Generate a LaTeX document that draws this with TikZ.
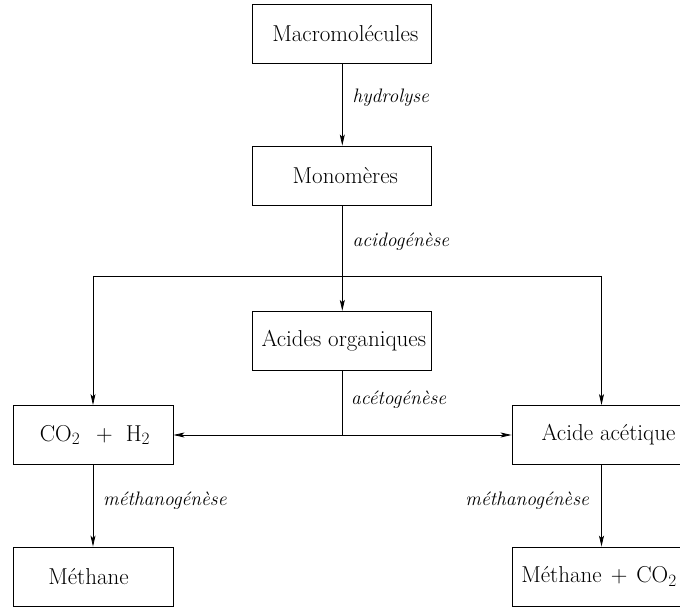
\documentclass[tikz,border=0pt]{standalone}
\usetikzlibrary{arrows.meta}
\begin{document}
\begin{tikzpicture}[x=1pt,y=-1pt,
  box/.style={draw, line width=0.9pt, minimum height=59pt, inner sep=0pt, font=\fontsize{23}{27}\selectfont},
  lbl/.style={inner sep=0pt, font=\fontsize{19.5}{23}\selectfont\itshape},
  ln/.style={line width=0.8pt},
  arr/.style={line width=0.8pt, -{Stealth[length=11pt,width=5pt,inset=2.5pt]}}]
\useasboundingbox (0,0) rectangle (680,609);
\node[box, minimum width=179pt] (macro) at (342.3,33.8) {\hspace{6pt}Macromolécules};
\node[box, minimum width=179pt] (mono) at (342.3,175.5) {\hspace{6pt}Monomères};
\node[box, minimum width=179pt] (acides) at (342.3,340.8) {\hspace{3pt}Acides organiques};
\node[box, minimum width=160pt] (co2) at (93,435) {\hspace{4pt}CO$_2$\hspace{16pt}+\hspace{13pt}H$_2$};
\node[box, minimum width=193pt] (acet) at (608.5,435) {Acide acétique};
\node[box, minimum width=160pt] (meth) at (93,576.5) {Méthane\kern9pt};
\node[box, minimum width=193pt] (methco) at (608.5,576.5) {Méthane\hspace{9pt}+\hspace{9pt}CO$_2$\kern19pt};
\coordinate (jc) at (342.3,276);
\coordinate (jl) at (co2.north |- jc);
\coordinate (jr) at (601.5,276);
\coordinate (mid) at (acides.south |- co2.east);
\draw[arr] (macro) -- (mono);
\draw[arr] (mono) -- (acides);
\draw[ln] (jl) -- (jr);
\draw[arr] (jl) -- (co2.north);
\draw[arr] (jr) -- (jr |- acet.north);
\draw[ln] (acides.south) -- (mid);
\draw[arr] (mid) -- (co2.east);
\draw[arr] (mid) -- (acet.west);
\draw[arr] (co2) -- (meth);
\draw[arr] (jr |- acet.south) -- (jr |- methco.north);
\node[lbl, anchor=west] (l1) at (352.5,98) {hydrolyse};
\node[lbl, anchor=west] (l2) at (352.5,242) {acidogénèse};
\node[lbl, anchor=west] (l3) at (351,400) {acétogénèse};
\node[lbl, anchor=west] (l4) at (103,501) {méthanogénèse};
\node[lbl, anchor=east] (l5) at (589,501) {méthanogénèse};
\end{tikzpicture}
\end{document}
